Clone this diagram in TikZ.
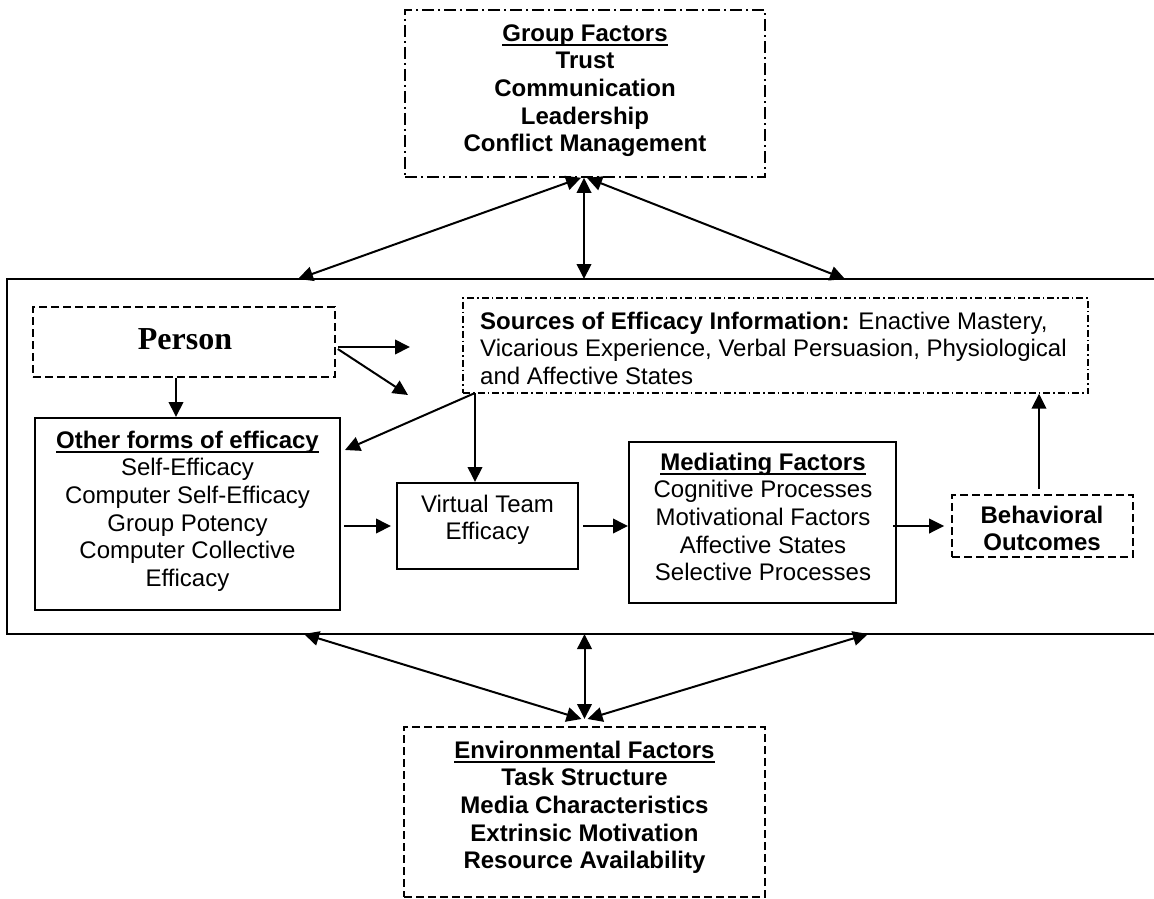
\documentclass[tikz,border=0pt]{standalone}
\usepackage{fontspec}
\setmainfont{Liberation Sans}
\newfontfamily\personfont{Liberation Serif}
\newcommand{\myul}[1]{\setbox0\hbox{#1}\rlap{\rule[-4.6pt]{\wd0}{1.8pt}}\box0}
\usetikzlibrary{arrows.meta}
\tikzset{
  solidbox/.style={draw, line width=2pt, inner sep=0pt, rectangle},
  dashbox/.style={draw, line width=1.6pt, inner sep=0pt, rectangle, dash pattern=on 8pt off 4pt},
  ddbox/.style={draw, line width=1.6pt, inner sep=0pt, rectangle, dash pattern=on 12pt off 4pt on 2pt off 4pt},
  ddboxfine/.style={draw, line width=1.4pt, inner sep=0pt, rectangle, dash pattern=on 7pt off 3pt on 1.5pt off 3pt},
  txt/.style={inner sep=0pt, align=center, font=\fontsize{24}{27.6}\selectfont},
  txtl/.style={inner sep=0pt, align=left, font=\fontsize{24}{27.6}\selectfont},
  arr/.style={line width=2pt, -{Triangle[length=15pt,width=14.5pt]}},
  darr/.style={line width=2pt, {Triangle[length=15pt,width=14.5pt]}-{Triangle[length=15pt,width=14.5pt]}},
}
\begin{document}
\begin{tikzpicture}[x=1pt,y=-1pt]
\useasboundingbox (0,0) rectangle (1154,899);
\clip (0,0) rectangle (1154,899);

% outer frame
\node[solidbox, minimum width=1163pt, minimum height=355pt] (frame) at (588.5,456.5) {};

% group factors
\node[ddbox, minimum width=360pt, minimum height=167pt] (grp) at (585,93.5) {};
\node[txt, anchor=north] (grpt) at (585,21.7) {\strut\myul{\textbf{Group Factors}}\\\textbf{Trust}\\\textbf{Communication}\\\textbf{Leadership}\\\textbf{Conflict Management}};

% environmental factors
\node[dashbox, minimum width=361pt, minimum height=170pt] (env) at (584.5,812) {};
\node[txt, anchor=north] (envt) at (584.5,738.7) {\strut\myul{\textbf{Environmental Factors}}\\\textbf{Task Structure}\\\textbf{Media Characteristics}\\\textbf{Extrinsic Motivation}\\\textbf{Resource Availability}};

% person
\node[dashbox, minimum width=302pt, minimum height=70pt] (per) at (184,342) {};
\node[inner sep=0pt, font=\personfont\bfseries\fontsize{32}{36}\selectfont] (pert) at (185,339) {Person};

% sources
\node[ddboxfine, minimum width=625pt, minimum height=95pt] (src) at (775.5,345.5) {};
\node[txtl, anchor=north west] (srct) at (480,309.7) {\strut\textbf{Sources of Efficacy Information:} Enactive Mastery,\\Vicarious Experience, Verbal Persuasion, Physiological\\and Affective States};

% other forms
\node[solidbox, minimum width=305pt, minimum height=192pt] (oth) at (187.5,514) {};
\node[txt, anchor=north] (otht) at (187.5,428.7) {\strut\myul{\textbf{Other forms of efficacy}}\\Self-Efficacy\\Computer Self-Efficacy\\Group Potency\\Computer Collective\\Efficacy};

% virtual team efficacy
\node[solidbox, minimum width=181pt, minimum height=86pt] (vir) at (487.5,526) {};
\node[txt, anchor=north] (virt) at (487.5,492.7) {\strut Virtual Team\\Efficacy};

% mediating factors
\node[solidbox, minimum width=267pt, minimum height=161pt] (med) at (762.5,522.5) {};
\node[txt, anchor=north] (medt) at (763,450.7) {\strut\myul{\textbf{Mediating Factors}}\\Cognitive Processes\\Motivational Factors\\Affective States\\Selective Processes};

% behavioral outcomes
\node[dashbox, minimum width=181pt, minimum height=62pt] (beh) at (1042.5,526) {};
\node[txt, anchor=north] (beht) at (1042,503.7) {\strut\textbf{Behavioral}\\\textbf{Outcomes}};

% free ends on the frame
\coordinate (gl) at (298,279);
\coordinate (gm) at (584,279);
\coordinate (gr) at (845,279);
\coordinate (el) at (304,634);
\coordinate (em) at (584.5,634);
\coordinate (er) at (868,634);
\coordinate (ej) at (584.5,719);
\coordinate (pa) at (410,347);
\coordinate (pb) at (408,395);
\coordinate (sj) at (475,393);
\coordinate (oa) at (345,450);
\coordinate (bu) at (1039,489);

% group <-> frame
\draw[darr] ([xshift=-4pt]grp.south) -- (gl);
\draw[darr] ([xshift=-1pt]grp.south) -- (gm);
\draw[darr] ([xshift=2pt]grp.south) -- (gr);

% env <-> frame
\draw[darr] ([xshift=-3pt]ej) -- (el);
\draw[darr] (ej) -- (em);
\draw[darr] ([xshift=3pt]ej) -- (er);

% person arrows
\draw[arr] ([shift={(2pt,-5pt)}]per.east) -- (pa);
\draw[arr] ([shift={(2pt,-7pt)}]per.east) -- (pb);
\draw[arr] ([xshift=-8pt]per.south) -- ([xshift=-8pt]per.south |- oth.north);

% sources arrows
\draw[arr] (sj) -- (oa);
\draw[arr] (sj) -- (sj |- vir.north);

% chain
\draw[arr] ([xshift=3pt]oth.east |- vir.west) -- ([xshift=-5pt]vir.west);
\draw[arr] ([xshift=4pt]vir.east) -- (med.west |- vir.east);
\draw[arr] ([xshift=-4pt]med.east |- beh.west) -- ([xshift=-7pt]beh.west);
\draw[arr] (bu) -- (bu |- src.south);
\end{tikzpicture}
\end{document}
